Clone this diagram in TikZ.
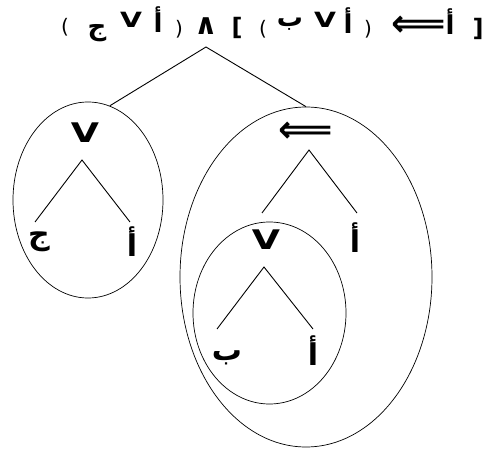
\documentclass[tikz,border=0pt]{standalone}
\usepackage{fontspec}
\usepackage{graphicx}
\setmainfont{DejaVu Sans}
\newfontfamily\arabicfont[Script=Arabic]{DejaVu Sans}
\TeXXeTstate=1
\usetikzlibrary{shapes.geometric}
\newcommand{\ar}[1]{{\arabicfont\bfseries\beginR #1\endR}}
\newcommand{\wideV}{\scalebox{1.35}[1]{V}}

\begin{document}
\begin{tikzpicture}[x=1pt, y=-1pt,
    sym/.style={font=\fontsize{24}{24}\selectfont\bfseries, inner sep=0pt},
    wedge/.style={font=\fontsize{29}{29}\selectfont\bfseries, inner sep=0pt},
    vee/.style={font=\fontsize{21}{21}\selectfont\bfseries, inner sep=0pt},
    paren/.style={font=\fontsize{20}{20}\selectfont, inner sep=0pt},
    arb/.style={font=\fontsize{26}{26}\selectfont, inner sep=0pt},
    imp/.style={font=\fontsize{38}{38}\selectfont\bfseries, inner sep=0pt},
    lbl/.style={font=\fontsize{27}{27}\selectfont\bfseries, inner sep=0pt},
    leaf/.style={font=\fontsize{30}{30}\selectfont, inner sep=0pt},
    blob/.style={draw, ellipse, inner sep=0pt, line width=0.7pt},
    edge/.style={line width=0.9pt}]
    \useasboundingbox (0,0) rectangle (485,449);
    % formula on top
    \node[paren] (lp1) at (65,27) {(};
    \node[arb] (fj) at (97,33) {\ar{ج}};
    \node[vee] (fv1) at (131,20) {\wideV};
    \node[arb] (fa1) at (158,20) {\ar{أ}};
    \node[paren] (rp1) at (179,29) {)};
    \node[wedge] (fand) at (206,26) {∧};
    \node[sym] (lb) at (237,28) {[};
    \node[paren] (lp2) at (263,29) {(};
    \node[arb] (fb) at (290,24) {\ar{ب}};
    \node[vee] (fv2) at (325,20) {\wideV};
    \node[arb] (fa2) at (348,21) {\ar{أ}};
    \node[paren] (rp2) at (368,29) {)};
    \node[imp] (fimp) at (419,26) {⟸};
    \node[arb] (fa3) at (450,22) {\ar{أ}};
    \node[sym] (rb) at (478,29) {]};
    % left subtree
    \node[blob, minimum width=150pt, minimum height=196pt] (lefte) at (88,200) {};
    \node[lbl] (lv) at (85,133) {\wideV};
    \node[leaf] (lj) at (39,242) {\ar{ج}};
    \node[leaf] (la) at (132,242) {\ar{أ}};
    \draw[edge] ([shift={(-4,-20)}]lj.center) -- ([shift={(-3,27)}]lv.center) -- ([shift={(-2,-20)}]la.center);
    % right subtree
    \node[blob, minimum width=252pt, minimum height=340pt] (bige) at (306,277) {};
    \node[imp] (rimp) at (306,132) {⟸};
    \node[lbl] (rv) at (266,240) {\wideV};
    \node[leaf] (ra) at (355,238) {\ar{أ}};
    \draw[edge] ([shift={(-4,-27)}]rv.center) -- ([shift={(3,18)}]rimp.center) -- ([shift={(2,-25)}]ra.center);
    % inner subtree
    \node[blob, minimum width=153pt, minimum height=182pt] (inne) at (269.5,313) {};
    \node[leaf] (ib) at (227,358) {\ar{ب}};
    \node[leaf] (ia) at (313,351) {\ar{أ}};
    \draw[edge] ([shift={(-10,-29)}]ib.center) -- ([shift={(-2,27)}]rv.center) -- ([shift={(0,-22)}]ia.center);
    % root
    \draw[edge] (lefte.77) -- ([shift={(0,21)}]fand.center) -- (bige.north);
\end{tikzpicture}
\end{document}
